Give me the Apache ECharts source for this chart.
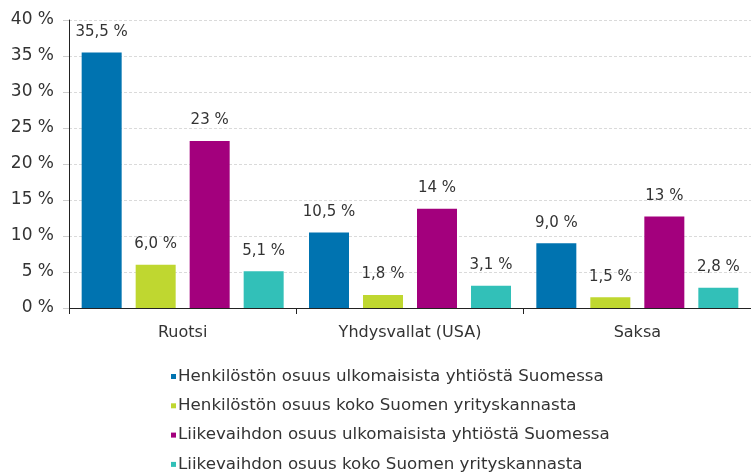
<!DOCTYPE html>
<html>
<head>
<meta charset="utf-8">
<script src="https://cdn.jsdelivr.net/npm/echarts@6/dist/echarts.min.js"></script>
<style>
  html, body { margin: 0; padding: 0; background: #fff; }
  #chart { width: 751px; height: 475px; }
</style>
</head>
<body>
<div id="chart"></div>
<script>
// maat
const countries = ["Ruotsi", "Yhdysvallat (USA)", "Saksa"];
// sarjojen nimet
const seriesNames = [
  "Henkilöstön osuus ulkomaisista yhtiöstä Suomessa",
  "Henkilöstön osuus koko Suomen yrityskannasta",
  "Liikevaihdon osuus ulkomaisista yhtiöstä Suomessa",
  "Liikevaihdon osuus koko Suomen yrityskannasta"
];
// arvot (%)
const staffForeign = [35.5, 10.5, 9.0];
const staffAll = [6.0, 1.8, 1.5];
const turnoverForeign = [23.2, 13.8, 12.7];
const turnoverAll = [5.1, 3.1, 2.8];
// desimaalit arvojen nimiöissä
const labelDecimals = [1, 1, 0, 1];
const colors = ["#0073B0", "#BFD730", "#A3007D", "#32C0B8"];

const chartDom = document.getElementById("chart");
const myChart = echarts.init(chartDom);

const seriesValues = [staffForeign, staffAll, turnoverForeign, turnoverAll];

const series = seriesValues.map((values, i) => {
  return {
    name: seriesNames[i],
    type: "bar",
    data: values,
    barWidth: 40,
    barGap: "35%",
    itemStyle: { color: colors[i] },
    label: {
      show: true,
      position: "top",
      distance: 13,
      color: "#333",
      fontFamily: "DejaVu Sans",
      fontSize: 15,
      formatter: (p) => p.value.toFixed(labelDecimals[i]).replace(".", ",") + " %"
    }
  };
});

const option = {
  animation: false,
  color: colors,
  grid: {
    left: 69,
    top: 20,
    width: 687,
    height: 288
  },
  legend: {
    orient: "vertical",
    left: 171,
    top: 368,
    height: 120,
    padding: 0,
    itemWidth: 5,
    itemHeight: 5,
    itemGap: 12.3,
    icon: "rect",
    textStyle: {
      fontFamily: "DejaVu Sans",
      fontSize: 16.7,
      color: "#333",
      padding: [0, 0, 0, -3]
    },
    data: seriesNames
  },
  xAxis: {
    type: "category",
    data: countries,
    axisLine: { lineStyle: { color: "#222", width: 1 } },
    axisTick: { show: true, length: 6, lineStyle: { color: "#222" } },
    axisLabel: {
      color: "#333",
      fontFamily: "DejaVu Sans",
      fontSize: 16,
      margin: 17
    }
  },
  yAxis: {
    type: "value",
    min: 0,
    max: 40,
    interval: 5,
    axisLine: { show: true, lineStyle: { color: "#222" } },
    axisTick: { show: true, length: 6, lineStyle: { color: "#ccc" } },
    axisLabel: {
      color: "#333",
      fontFamily: "DejaVu Sans",
      fontSize: 17,
      margin: 15,
      formatter: "{value} %"
    },
    splitLine: {
      show: true,
      lineStyle: { color: "#dadada", type: [3, 2] }
    }
  },
  series: series
};

myChart.setOption(option);
</script>
</body>
</html>
